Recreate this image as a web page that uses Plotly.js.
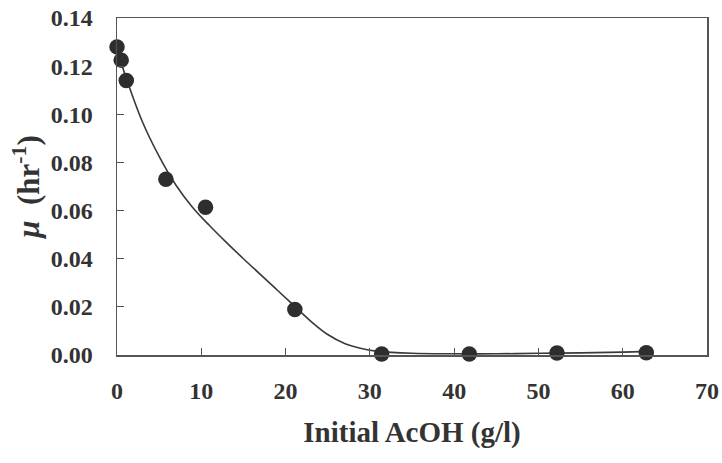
<!DOCTYPE html>
<html>
<head>
<meta charset="utf-8">
<script src="https://cdn.plot.ly/plotly-3.0.1.min.js"></script>
<style>html,body{margin:0;padding:0;background:#fff;}#chart{width:722px;height:463px;}</style>
</head>
<body>
<div id="chart"></div>
<script>
// Measured data points
const acohX = [0, 0.5, 1.1, 5.8, 10.5, 21.1, 31.4, 41.8, 52.2, 62.8];
const muY   = [0.128, 0.1225, 0.114, 0.073, 0.0614, 0.0189, 0.0004, 0.0004, 0.0008, 0.0009];

// Fitted curve
const fitX = [0, 1, 3, 5, 7, 9, 11, 13, 15, 17, 19, 21, 23, 25, 27, 29, 31, 35, 40, 45, 50, 55, 60, 62.8];
const fitY = [0.127, 0.116, 0.097, 0.0825, 0.0705, 0.0612, 0.0537, 0.0467, 0.0400, 0.0335, 0.0270, 0.0205, 0.0140, 0.0085, 0.0048, 0.0027, 0.0015, 0.0007, 0.0005, 0.0005, 0.0007, 0.0009, 0.0012, 0.0015];

const xTicks = [0, 10, 20, 30, 40, 50, 60, 70];
const yTicks = [0, 0.02, 0.04, 0.06, 0.08, 0.10, 0.12, 0.14];
const yTickText = ['0.00', '0.02', '0.04', '0.06', '0.08', '0.10', '0.12', '0.14'];

const ink = '#333333';
const font = 'Liberation Serif, Times New Roman, serif';

const traces = [
  {
    x: fitX, y: fitY, type: 'scatter', mode: 'lines',
    line: {color: '#3a3a3a', width: 1.6, shape: 'spline', smoothing: 1},
    hoverinfo: 'skip', cliponaxis: false
  },
  {
    x: acohX, y: muY, type: 'scatter', mode: 'markers',
    marker: {color: '#2e2e2e', size: 15.5},
    cliponaxis: false
  }
];

const layout = {
  width: 722, height: 463,
  margin: {l: 117, r: 15, t: 18, b: 108},
  paper_bgcolor: '#ffffff', plot_bgcolor: '#ffffff',
  showlegend: false,
  font: {family: font, color: ink},
  xaxis: {
    range: [0, 70], tickvals: xTicks, ticktext: xTicks.map(String),
    ticks: 'inside', ticklen: 7, tickwidth: 1.2, tickcolor: '#555',
    showline: true, linecolor: '#555', linewidth: 1.5, mirror: true,
    showgrid: false, zeroline: false,
    tickfont: {family: font, size: 24, color: ink, weight: 'bold'},
    ticklabelstandoff: 14,
    automargin: 'bottom',
    title: {text: '<b>Initial AcOH (g/l)</b>', font: {family: font, size: 29, color: ink}, standoff: 18}
  },
  yaxis: {
    range: [0, 0.14], tickvals: yTicks, ticktext: yTickText,
    ticks: 'inside', ticklen: 7, tickwidth: 1.2, tickcolor: '#555',
    showline: true, linecolor: '#555', linewidth: 1.5, mirror: true,
    showgrid: false, zeroline: false,
    tickfont: {family: font, size: 24, color: ink, weight: 'bold'},
    ticklabelstandoff: 18,
    automargin: 'left',
    title: {text: '<b><i>μ</i>  (hr<sup>-1</sup>)</b>', font: {family: font, size: 31, color: ink}, standoff: 2}
  }
};

Plotly.newPlot('chart', traces, layout, {displayModeBar: false, staticPlot: true});
</script>
</body>
</html>
